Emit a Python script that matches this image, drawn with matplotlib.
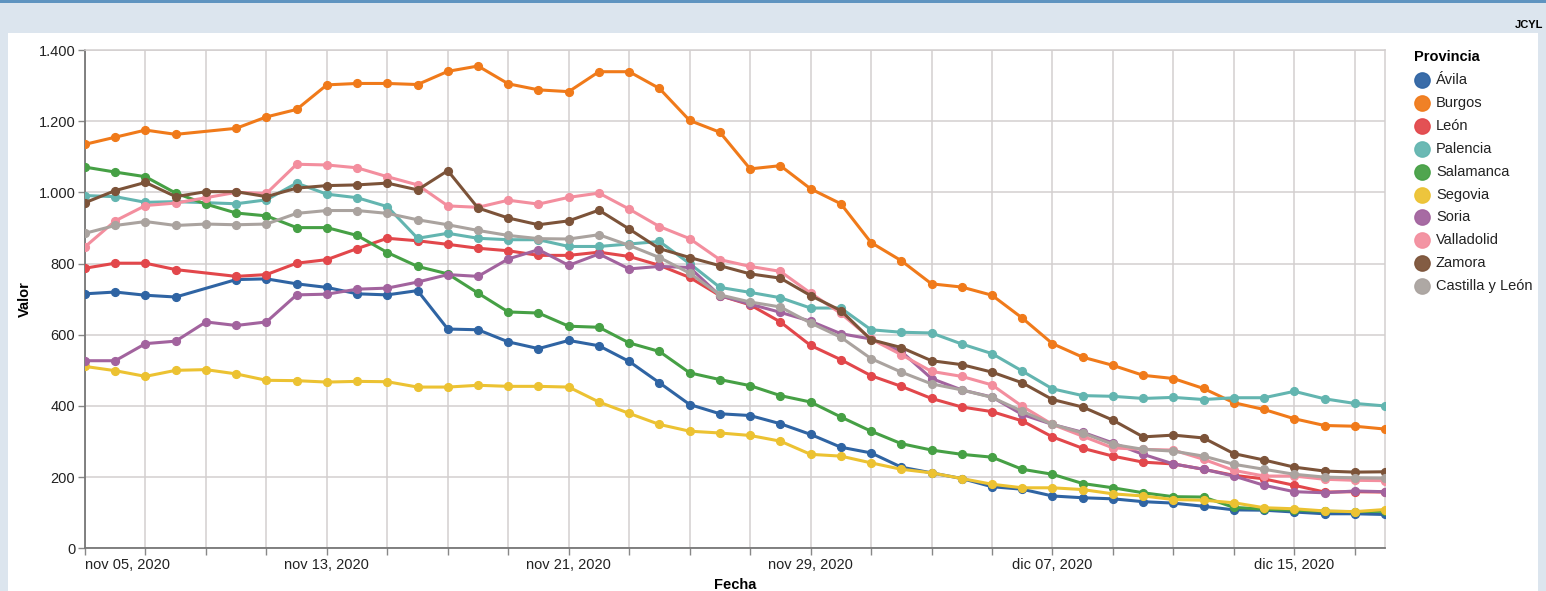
import numpy as np
import pandas as pd
import matplotlib
matplotlib.use("Agg")
import matplotlib.pyplot as plt
from matplotlib.patches import Rectangle
from matplotlib.lines import Line2D
from matplotlib.ticker import FuncFormatter, MultipleLocator

plt.rcParams['font.family'] = ['Liberation Sans', 'DejaVu Sans']

# daily values, nov 05 2020 -> dec 18 2020 (nan = day without data point)
fechas = pd.date_range("2020-11-05", "2020-12-18", freq="D")
nan = np.nan

avila = [715, 720, 711, 706, nan, 755, 757, 743, 733, 715, 712, 724, 616, 614, 580, 561, 584, 569, 525, 465, 404, 378,
         373, 350, 320, 284, 268, 228, 212, 196, 173, 166, 147, 142, 139, 131, 127, 118, 108, 107, 102, 97, 97, 95]
burgos = [1135, 1155, 1175, 1163, nan, 1180, 1212, 1233, 1302, 1306, 1306, 1303, 1340, 1355, 1305, 1288, 1283, 1339,
          1339, 1292, 1202, 1169, 1066, 1075, 1010, 968, 859, 808, 743, 734, 711, 647, 575, 537, 514, 486, 477, 449,
          409, 390, 364, 345, 343, 335]
leon = [787, 801, 801, 783, nan, 764, 769, 801, 811, 842, 871, 864, 854, 843, 836, 823, 823, 832, 820, 795, 761, 710,
        684, 636, 570, 530, 485, 455, 421, 397, 384, 358, 313, 281, 259, 242, 237, 222, 205, 195, 177, 158, 159, 158]
palencia = [991, 988, 972, 974, 971, 968, 979, 1026, 995, 985, 960, 871, 885, 871, 867, 867, 848, 848, 855, 862, 800,
             733, 719, 704, 675, 675, 614, 607, 605, 574, 547, 498, 448, 429, 427, 421, 424, 418, 423, 423, 441, 420,
             407, 400]
salamanca = [1071, 1057, 1044, 998, 967, 942, 934, 901, 901, 879, 831, 792, 771, 717, 664, 661, 624, 621, 577, 553,
             493, 474, 457, 429, 411, 369, 329, 294, 276, 264, 256, 222, 208, 182, 170, 156, 145, 144, 115, 110, 107,
             104, 103, 104]
segovia = [511, 499, 483, 500, 502, 490, 472, 471, 467, 469, 468, 453, 453, 458, 455, 455, 453, 411, 379, 348, 329,
           324, 317, 301, 264, 259, 240, 222, 212, 196, 180, 170, 170, 165, 153, 147, 137, 135, 128, 114, 111, 105,
           103, 109]
soria = [527, 527, 575, 582, 636, 626, 636, 712, 714, 728, 731, 748, 769, 764, 813, 839, 795, 827, 785, 792, 789, 710,
         686, 663, 638, 603, 588, 553, 477, 445, 425, 376, 348, 326, 296, 264, 237, 222, 203, 177, 159, 156, 161, 159]
valladolid = [847, 920, 963, 970, 985, 1000, 997, 1079, 1077, 1069, 1044, 1021, 962, 958, 978, 967, 986, 998, 953,
              904, 870, 811, 792, 778, 717, 660, 588, 544, 497, 483, 459, 399, 348, 315, 282, 278, 276, 250, 219, 203,
              203, 194, 191, 190]
zamora = [971, 1005, 1028, 988, 1002, 1002, 988, 1012, 1019, 1021, 1026, 1007, 1061, 956, 928, 909, 920, 950, 897,
          842, 817, 794, 771, 759, 710, 668, 586, 564, 527, 516, 495, 465, 418, 397, 360, 313, 318, 310, 266, 248,
          228, 217, 214, 215]
castilla_leon = [885, 907, 918, 907, 911, 909, 911, 941, 949, 949, 941, 923, 909, 893, 879, 870, 869, 881, 851, 817,
                 773, 712, 692, 678, 633, 593, 533, 495, 462, 445, 424, 385, 348, 324, 292, 278, 273, 259, 236, 222,
                 208, 200, 198, 197]

provincias = ["Ávila", "Burgos", "León", "Palencia", "Salamanca", "Segovia", "Soria", "Valladolid", "Zamora",
              "Castilla y León"]
series = [avila, burgos, leon, palencia, salamanca, segovia, soria, valladolid, zamora, castilla_leon]
colores = ["#2f64a3", "#f07a1a", "#e2474b", "#63b5b0", "#46a045", "#ecc232", "#a2639e", "#f38e9e", "#7c5339",
           "#aaa39f"]
meses = {11: "nov", 12: "dic"}

W, H = 1546, 591
fig = plt.figure(figsize=(W / 100, H / 100), dpi=100)
fig.patch.set_facecolor("#dce5ee")
# white panel + top strip
fig.add_artist(Rectangle((8 / W, 0), (1538 - 8) / W, 1 - 33 / H, transform=fig.transFigure,
                         facecolor="white", edgecolor="none", zorder=0))
fig.add_artist(Rectangle((0, 1 - 3 / H), 1, 3 / H, transform=fig.transFigure,
                         facecolor="#5f94c0", edgecolor="none", zorder=0))

x0, x1, y0, y1 = 85, 1385, 50, 548.3
ax = fig.add_axes([x0 / W, 1 - y1 / H, (x1 - x0) / W, (y1 - y0) / H])
ax.set_facecolor("none")

for nombre, vals, c in zip(provincias, series, colores):
    v = np.array(vals, dtype=float)
    ok = ~np.isnan(v)
    ax.plot(fechas[ok], v[ok], color=c, lw=2.2, marker="o", ms=5.6, mec=c, mfc=c, zorder=3)

ax.set_xlim(fechas[0], fechas[-1])
ax.set_ylim(0, 1400)

ticks = fechas[::2]
ax.set_xticks(ticks)
etiquetas = []
for i, d in enumerate(ticks):
    if (i * 2) % 8 == 0:
        etiquetas.append("{} {:02d}, {}".format(meses[d.month], d.day, d.year))
    else:
        etiquetas.append("")
ax.set_xticklabels(etiquetas)
ax.get_xticklabels()[0].set_horizontalalignment("left")

ax.yaxis.set_major_locator(MultipleLocator(200))
ax.yaxis.set_major_formatter(FuncFormatter(lambda v, p: "{:,.0f}".format(v).replace(",", ".")))

ax.grid(True, color="#d3cfcf", lw=1.1, zorder=0)
ax.tick_params(axis="both", length=5, width=1, color="#888888", labelsize=10.5, labelcolor="#222222", pad=2)
for s in ["left", "bottom"]:
    ax.spines[s].set_color("#777777")
    ax.spines[s].set_linewidth(1.3)
for s in ["top", "right"]:
    ax.spines[s].set_color("#d3cfcf")
    ax.spines[s].set_linewidth(1.1)

fig.text(735 / W, 1 - 585 / H, "Fecha", ha="center", va="center", fontsize=10.5, fontweight="bold")
fig.text(25 / W, 1 - 299 / H, "Valor", ha="center", va="center", rotation=90, fontsize=10.5, fontweight="bold")
fig.text(1543 / W, 1 - 25 / H, "JCYL", ha="right", va="center", fontsize=8, fontweight="bold")

# legend drawn by hand to keep the vega-like spacing
fig.text(1414 / W, 1 - 57 / H, "Provincia", ha="left", va="center", fontsize=10.5, fontweight="bold")
for k, (nombre, c) in enumerate(zip(provincias, colores)):
    yy = 1 - (80 + 22.9 * k) / H
    fig.add_artist(Line2D([1421.5 / W], [yy], transform=fig.transFigure, marker="o", ms=11,
                          mfc=c, mec=c, alpha=0.95, lw=0))
    fig.text(1436 / W, yy, nombre, ha="left", va="center", fontsize=10.5, color="#222222")

fig.savefig("out.png", dpi=100, facecolor=fig.get_facecolor())
